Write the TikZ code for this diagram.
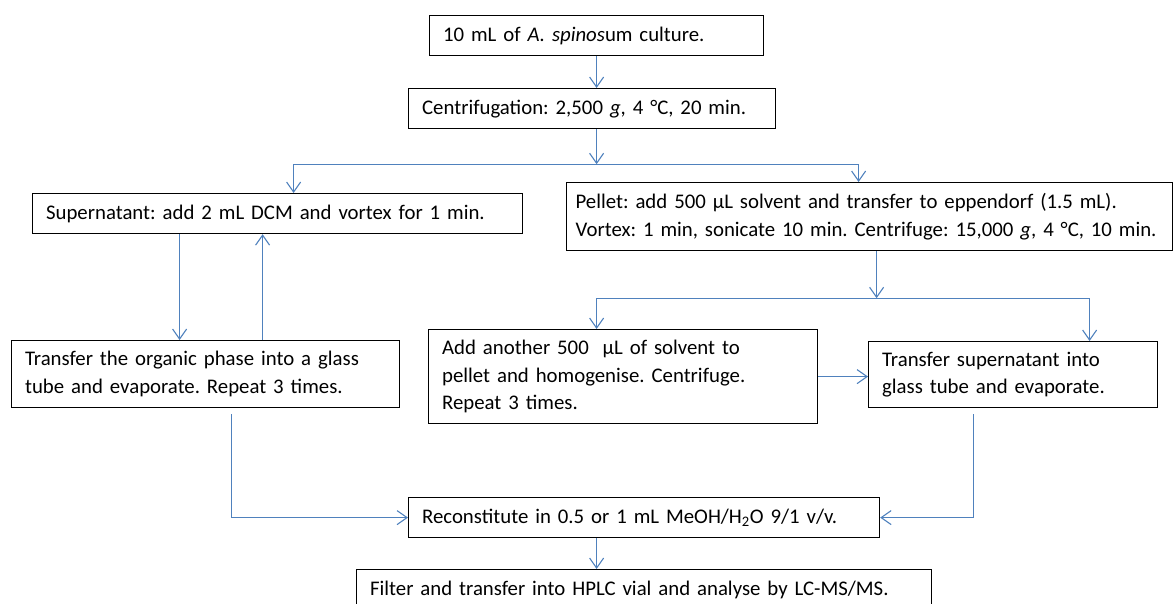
\documentclass[tikz,border=0pt]{standalone}
\usepackage{fontspec}
\setmainfont{Carlito}
\usetikzlibrary{arrows.meta}
\definecolor{flowblue}{RGB}{79,129,189}
\frenchspacing

\begin{document}
\begin{tikzpicture}[x=1pt, y=-1pt, font=\fontsize{20.8}{27.5}\selectfont]
    % box and arrow styles
    \tikzstyle{step box}=[draw, line width=1.2pt, anchor=north west, align=left,
        inner xsep=13.5pt, inner ysep=3pt]
    \tikzstyle{flow}=[flowblue, line width=1.1pt, -{Straight Barb[length=10pt,width=14pt]}]

    \useasboundingbox (0,0) rectangle (1174,603);

    % main column
    \node[step box, text width=307pt, minimum height=40pt] (culture) at (429,15)
        {10 mL of \textit{A. spinos}um culture.};
    \node[step box, text width=340pt, minimum height=40pt] (centri) at (408,88)
        {Centrifugation: 2,500 \textit{g}, 4 °C, 20 min.};

    % left branch (supernatant)
    \node[step box, text width=463pt, minimum height=40pt] (super) at (32,193)
        {Supernatant: add 2 mL DCM and vortex for 1 min.};
    \node[step box, text width=361pt, minimum height=67pt] (organic) at (11,340)
        {Transfer the organic phase into a glass\\tube and evaporate. Repeat 3 times.};

    % right branch (pellet)
    \node[step box, inner xsep=9pt, text width=588pt, minimum height=68pt] (pellet) at (566,182)
        {Pellet: add 500 µL solvent and transfer to eppendorf (1.5 mL).\\
         Vortex: 1 min, sonicate 10 min. Centrifuge: 15,000 \textit{g}, 4 °C, 10~min.};
    \node[step box, text width=362pt, minimum height=94pt] (another) at (428,329)
        {Add another 500 \ µL of solvent to\\pellet and homogenise. Centrifuge.\\Repeat 3 times.};
    \node[step box, text width=262pt, minimum height=66pt] (transsup) at (868,341)
        {Transfer supernatant into\\glass tube and evaporate.};

    % final steps
    \node[step box, text width=444pt, minimum height=40pt] (recon) at (408,497)
        {Reconstitute in 0.5 or 1 mL MeOH/H\textsubscript{2}O 9/1 v/v.};
    \node[step box, text width=548pt, minimum height=40pt] (filter) at (356,569)
        {Filter and transfer into HPLC vial and analyse by LC-MS/MS.};

    % arrows
    \draw[flow] (culture.south) -- (culture.south |- centri.north);
    \draw[flow] (culture.south |- centri.south) -- ++(0,35) coordinate (split1);
    \draw[flow] (split1) -| ([xshift=16pt]super.north);
    \draw[flow] (split1) -| ([xshift=-11pt]pellet.north);

    \draw[flow] ([xshift=-98pt]super.south) -- ([xshift=-98pt]super.south |- organic.north);
    \draw[flow] ([xshift=-15pt]super.south |- organic.north) -- ([xshift=-15pt]super.south);

    \draw[flow] ([xshift=7pt]pellet.south) -- ++(0,47) coordinate (split2);
    \draw[flow] (split2) -| ([xshift=-26.5pt]another.north);
    \draw[flow] (split2) -| ([xshift=76.5pt]transsup.north);
    \draw[flow] (another.east) -- (transsup.west |- another.east);

    \draw[flow, shorten <=6pt] ([xshift=26pt]organic.south) |- (recon.west);
    \draw[flow, shorten <=6pt] ([xshift=-39.5pt]transsup.south) |- (recon.east);
    \draw[flow] ([xshift=-47.5pt]recon.south) -- ([xshift=-47.5pt]recon.south |- filter.north);
\end{tikzpicture}
\end{document}
